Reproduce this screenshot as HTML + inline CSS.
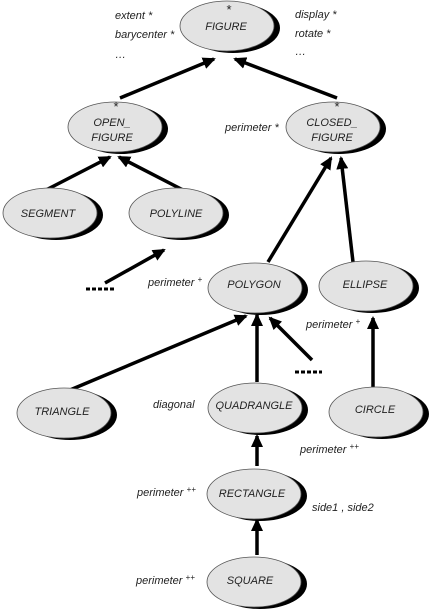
<!DOCTYPE html>
<html><head><meta charset="utf-8"><style>
html,body{margin:0;padding:0;background:#fff;}
svg{display:block;}
text{font-family:"Liberation Sans",sans-serif;font-style:italic;font-size:11px;fill:#222;}
.n{font-size:11.5px;text-anchor:middle;}
</style></head><body>
<svg width="431" height="611" viewBox="0 0 431 611" xmlns="http://www.w3.org/2000/svg">
<defs>
<marker id="a" markerWidth="13" markerHeight="12" refX="11" refY="6" orient="auto" markerUnits="userSpaceOnUse" viewBox="0 0 13 12">
<path d="M0,0 L13,6 L0,12 z" fill="#000"/></marker>
<g id="e"><ellipse cx="6" cy="2" rx="47" ry="25" fill="#000"/><ellipse cx="0" cy="0" rx="47" ry="25" fill="#e3e3e3" stroke="#555" stroke-width="0.8"/></g>
</defs>
<g stroke="#000" stroke-width="3.5" fill="none" marker-end="url(#a)">
<line x1="120" y1="98" x2="214" y2="59"/>
<line x1="337" y1="98" x2="235" y2="59"/>
<line x1="46" y1="190" x2="110" y2="157"/>
<line x1="183" y1="190" x2="119" y2="157"/>
<line x1="268" y1="262" x2="331" y2="158"/>
<line x1="353" y1="262" x2="341" y2="158"/>
<line x1="105" y1="283" x2="164" y2="250"/>
<line x1="70" y1="390" x2="246" y2="316"/>
<line x1="257" y1="382" x2="257" y2="315"/>
<line x1="312" y1="360" x2="270" y2="318"/>
<line x1="373" y1="390" x2="373" y2="318"/>
<line x1="257" y1="466" x2="257" y2="436"/>
<line x1="257" y1="555" x2="257" y2="520"/>
</g>
<g stroke="#000" stroke-width="3" stroke-dasharray="4,2">
<line x1="86" y1="289" x2="114" y2="289"/>
<line x1="295" y1="372" x2="322" y2="372"/>
</g>
<use href="#e" x="227" y="26"/>
<use href="#e" x="115" y="127"/>
<use href="#e" x="333" y="127"/>
<use href="#e" x="50" y="213"/>
<use href="#e" x="176" y="213"/>
<use href="#e" x="255" y="288"/>
<use href="#e" x="366" y="286"/>
<use href="#e" x="64" y="413"/>
<use href="#e" x="255" y="408"/>
<use href="#e" x="376" y="412"/>
<use href="#e" x="254" y="494"/>
<use href="#e" x="254" y="582"/>
<g class="n">
<text x="229" y="14" style="font-style:normal;font-size:13px">*</text>
<text x="226" y="30">FIGURE</text>
<text x="116" y="111" style="font-style:normal;font-size:13px">*</text>
<text x="112" y="126">OPEN_</text>
<text x="112" y="141">FIGURE</text>
<text x="337" y="111" style="font-style:normal;font-size:13px">*</text>
<text x="332" y="126">CLOSED_</text>
<text x="332" y="141">FIGURE</text>
<text x="48" y="217">SEGMENT</text>
<text x="176" y="217">POLYLINE</text>
<text x="254" y="288">POLYGON</text>
<text x="365" y="288">ELLIPSE</text>
<text x="62" y="415">TRIANGLE</text>
<text x="254" y="409">QUADRANGLE</text>
<text x="375" y="413">CIRCLE</text>
<text x="252" y="497">RECTANGLE</text>
<text x="250" y="584">SQUARE</text>
</g>
<text x="115" y="19">extent *</text>
<text x="115" y="38">barycenter *</text>
<text x="115" y="58">…</text>
<text x="295" y="18">display *</text>
<text x="295" y="37">rotate *</text>
<text x="295" y="55">…</text>
<text x="225" y="131">perimeter *</text>
<text x="148" y="286">perimeter <tspan dy="-4" font-size="8">+</tspan></text>
<text x="306" y="328">perimeter <tspan dy="-4" font-size="8">+</tspan></text>
<text x="153" y="408">diagonal</text>
<text x="300" y="453">perimeter <tspan dy="-4" font-size="8">++</tspan></text>
<text x="137" y="496">perimeter <tspan dy="-4" font-size="8">++</tspan></text>
<text x="312" y="511">side1 , side2</text>
<text x="136" y="584">perimeter <tspan dy="-4" font-size="8">++</tspan></text>
</svg>
</body></html>
